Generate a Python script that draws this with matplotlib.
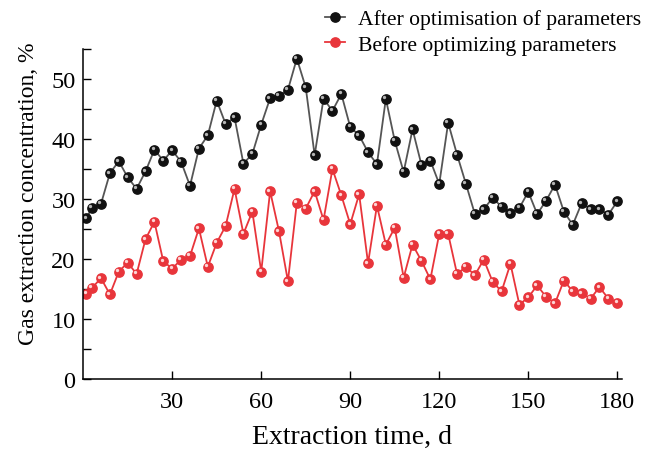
import numpy as np
import matplotlib.pyplot as plt
import matplotlib.transforms as mtransforms

plt.rcParams['font.family'] = ['Liberation Serif', 'DejaVu Serif']

# extraction days (first point on day 1, then every 3 days)
days = [1] + list(range(3, 181, 3))

# gas extraction concentration, %
after_opt = [26.8, 28.5, 29.2, 34.3, 36.3, 33.6, 31.7, 34.6, 38.2, 36.4,
             38.1, 36.2, 32.2, 38.4, 40.6, 46.4, 42.5, 43.6, 35.9, 37.5,
             42.4, 46.8, 47.2, 48.2, 53.4, 48.6, 37.3, 46.7, 44.7, 47.5,
             42.0, 40.6, 37.8, 35.8, 46.7, 39.7, 34.5, 41.6, 35.7, 36.4,
             32.5, 42.7, 37.4, 32.5, 27.5, 28.3, 30.2, 28.7, 27.6, 28.5,
             31.2, 27.5, 29.7, 32.4, 27.9, 25.7, 29.3, 28.3, 28.3, 27.4,
             29.6]
before_opt = [14.2, 15.2, 16.8, 14.1, 17.9, 19.4, 17.5, 23.3, 26.2, 19.6,
              18.4, 19.9, 20.5, 25.1, 18.7, 22.7, 25.5, 31.7, 24.2, 27.9,
              17.9, 31.3, 24.6, 16.3, 29.4, 28.4, 31.3, 26.5, 35.0, 30.6,
              25.8, 30.8, 19.3, 28.9, 22.4, 25.2, 16.9, 22.4, 19.7, 16.6,
              24.2, 24.2, 17.5, 18.7, 17.3, 19.9, 16.2, 14.6, 19.2, 12.4,
              13.6, 15.6, 13.7, 12.6, 16.4, 14.6, 14.3, 13.4, 15.3, 13.4,
              12.7]

fig = plt.figure(figsize=(6.5, 4.52), dpi=100)
ax = fig.add_axes([0.128, 0.1593, 0.8285, 0.7301])

# small highlight offset to fake the shaded ball markers
hl = ax.transData + mtransforms.ScaledTranslation(-1.2/72, 1.2/72, fig.dpi_scale_trans)

ax.plot(days, after_opt, color='#555555', lw=1.3, marker='o', ms=6.7,
        mfc='#111111', mec='#111111', label='After optimisation of parameters')
ax.plot(days, after_opt, ls='none', marker='o', ms=2.4, mfc='#b5b5b5',
        mec='none', transform=hl)
ax.plot(days, before_opt, color='#e8353b', lw=1.3, marker='o', ms=6.7,
        mfc='#e8353b', mec='#e8353b', label='Before optimizing parameters')
ax.plot(days, before_opt, ls='none', marker='o', ms=2.4, mfc='#fcd5d5',
        mec='none', transform=hl)

ax.set_xlim(0, 181.5)
ax.set_ylim(0, 55)
ax.set_xticks([30, 60, 90, 120, 150, 180])
ax.set_yticks([0, 10, 20, 30, 40, 50])
ax.set_yticks(np.arange(5, 56, 10), minor=True)
ax.tick_params(direction='in', length=6, width=1, labelsize=17.5)
ax.tick_params(axis='y', pad=5.5)
ax.tick_params(axis='x', pad=8.5)
ax.tick_params(which='minor', direction='in', length=6, width=1)
for s in ['top', 'right']:
    ax.spines[s].set_visible(False)
for s in ['left', 'bottom']:
    ax.spines[s].set_linewidth(1.1)

ax.set_xlabel('Extraction time, d', fontsize=20, labelpad=9)
ax.set_ylabel('Gas extraction concentration, %', fontsize=17)
ax.yaxis.set_label_coords(-0.083, 0.5636)

fig.legend(*ax.get_legend_handles_labels(), loc='upper left',
           bbox_to_anchor=(316/650, 1 - 1.5/452), borderaxespad=0,
           frameon=False, fontsize=15.6, handlelength=0.92,
           handletextpad=0.6, labelspacing=0.25, borderpad=0.4)

plt.savefig('out.png', dpi=100)
